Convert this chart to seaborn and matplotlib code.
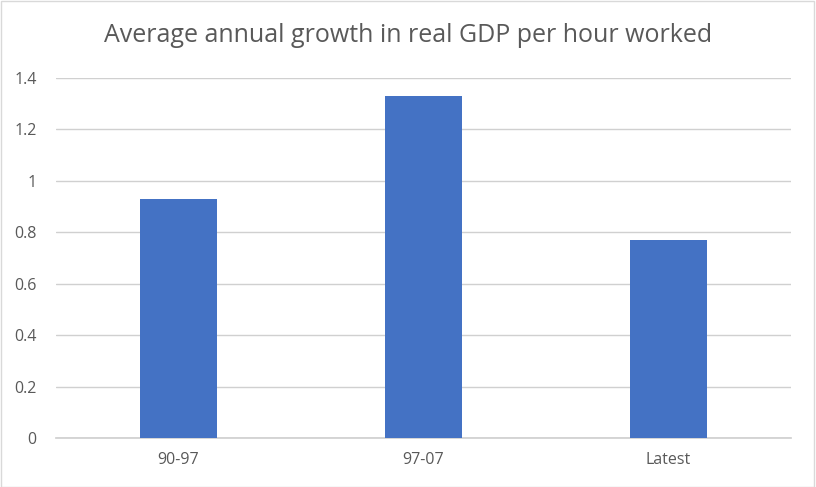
import matplotlib
matplotlib.use("Agg")
import matplotlib.pyplot as plt
import seaborn as sns
import pandas as pd
from matplotlib.patches import Rectangle

periods = ["90-97", "97-07", "Latest"]
growth = [0.93, 1.33, 0.77]
yticks = [0, 0.2, 0.4, 0.6, 0.8, 1.0, 1.2, 1.4]
ytick_labels = ["0", "0.2", "0.4", "0.6", "0.8", "1", "1.2", "1.4"]

df = pd.DataFrame({"period": periods, "growth": growth})

sns.set_theme(style="white")
plt.rcParams["font.family"] = ["Open Sans", "DejaVu Sans"]

fig = plt.figure(figsize=(8.16, 4.87), dpi=100)
ax = fig.add_axes([56 / 816, 1 - 438 / 487, (791 - 56) / 816, (438 - 78) / 487])

sns.barplot(data=df, x="period", y="growth", color="#4472C4", width=0.314,
            saturation=1, linewidth=0, ax=ax, zorder=3)

ax.set_ylim(0, 1.4)
ax.set_xlim(-0.5, 2.5)
ax.set_yticks(yticks)
ax.set_yticklabels(ytick_labels)
ax.grid(axis="y", color="#D0D0D0", linewidth=1, zorder=0)
ax.set_axisbelow(True)
for s in ["top", "right", "left"]:
    ax.spines[s].set_visible(False)
ax.spines["bottom"].set_color("#D0D0D0")
ax.tick_params(axis="both", length=0, labelsize=11.5, labelcolor="#595959")
ax.tick_params(axis="y", pad=14)
ax.tick_params(axis="x", pad=10)
ax.set_xlabel("")
ax.set_ylabel("")

fig.text(0.5, 1 - 35 / 487, "Average annual growth in real GDP per hour worked",
         ha="center", va="center", fontsize=18, color="#595959")

fig.patches.append(Rectangle((0.001, 0.001), 0.997, 0.997, transform=fig.transFigure,
                             fill=False, edgecolor="#D9D9D9", linewidth=1))

fig.savefig("out.png", dpi=100)
